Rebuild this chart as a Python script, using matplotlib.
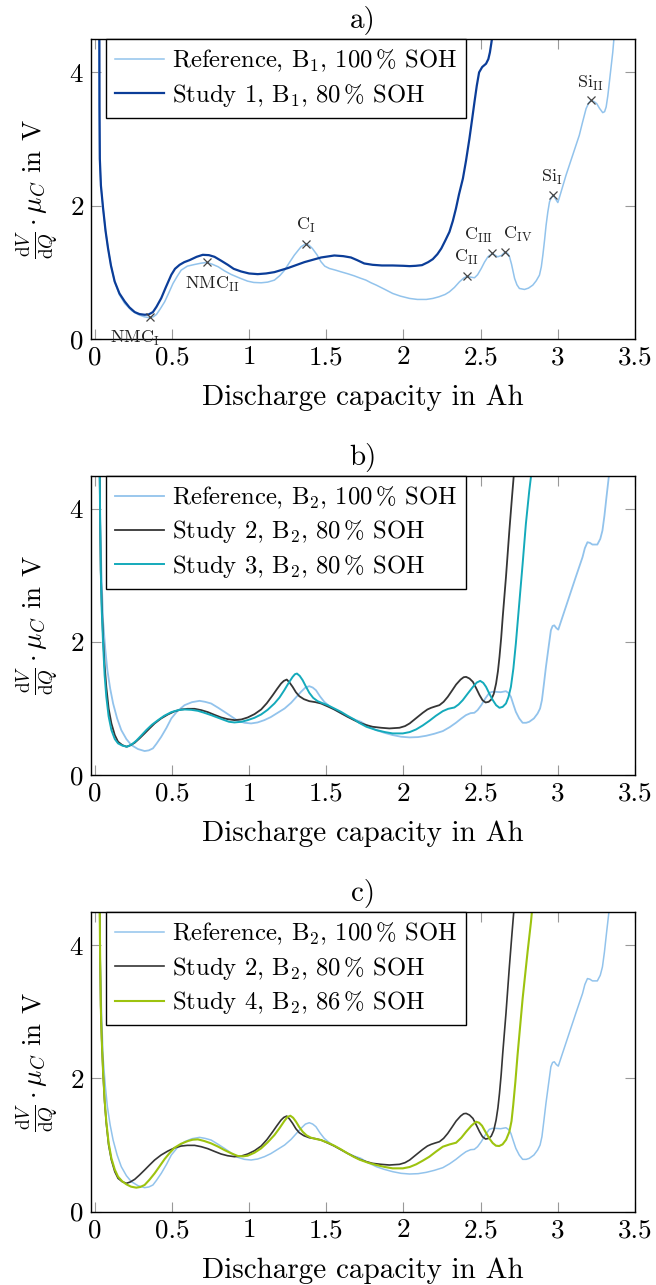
import matplotlib
matplotlib.use("Agg")
import matplotlib.pyplot as plt

# ----------- DATA -------------------------------------
# panel a) reference cell B1, 100 % SOH
ref_b1_q = [0.026, 0.028, 0.032, 0.04, 0.054, 0.07, 0.086, 0.105, 0.129, 0.16, 0.194, 0.24,
            0.28, 0.32, 0.356, 0.38, 0.40, 0.425, 0.453, 0.48, 0.507, 0.535, 0.56, 0.60,
            0.647, 0.69, 0.726, 0.76, 0.80, 0.84, 0.884, 0.94, 0.99, 1.03, 1.078, 1.12,
            1.164, 1.20, 1.23, 1.26, 1.293, 1.336, 1.369, 1.39, 1.41, 1.44, 1.466, 1.49,
            1.52, 1.56, 1.595, 1.64, 1.68, 1.72, 1.757, 1.79, 1.824, 1.88, 1.93, 1.98,
            2.04, 2.09, 2.148, 2.19, 2.23, 2.27, 2.298, 2.33, 2.363, 2.39, 2.41, 2.435,
            2.46, 2.48, 2.504, 2.525, 2.547, 2.575, 2.59, 2.61, 2.635, 2.659, 2.675, 2.687,
            2.70, 2.72, 2.735, 2.751, 2.784, 2.81, 2.838, 2.86, 2.881, 2.893, 2.903, 2.914,
            2.924, 2.935, 2.946, 2.96, 2.971, 2.985, 3.0, 3.01, 3.021, 3.053, 3.096, 3.139,
            3.16, 3.183, 3.2, 3.215, 3.235, 3.252, 3.27, 3.291, 3.303, 3.313, 3.324, 3.334,
            3.345, 3.356, 3.367]
ref_b1_v = [4.6, 3.5, 2.7, 2.3, 1.96, 1.62, 1.36, 1.1, 0.86, 0.66, 0.53, 0.42,
            0.365, 0.33, 0.315, 0.33, 0.365, 0.45, 0.555, 0.69, 0.83, 0.94, 1.03, 1.09,
            1.115, 1.135, 1.145, 1.12, 1.08, 1.02, 0.965, 0.91, 0.865, 0.845, 0.84, 0.85,
            0.88, 0.95, 1.03, 1.14, 1.255, 1.38, 1.43, 1.40, 1.355, 1.26, 1.155, 1.09,
            1.055, 1.03, 1.005, 0.975, 0.945, 0.91, 0.88, 0.84, 0.805, 0.74, 0.68, 0.64,
            0.605, 0.59, 0.59, 0.605, 0.63, 0.665, 0.705, 0.77, 0.855, 0.91, 0.935, 0.925,
            0.915, 0.96, 1.055, 1.15, 1.23, 1.28, 1.26, 1.23, 1.25, 1.305, 1.28, 1.23,
            1.12, 0.905, 0.81, 0.755, 0.74, 0.76, 0.805, 0.87, 0.955, 1.08, 1.255, 1.48,
            1.705, 1.9, 2.055, 2.13, 2.155, 2.1, 2.045, 2.12, 2.205, 2.455, 2.755, 3.055,
            3.25, 3.455, 3.54, 3.58, 3.56, 3.53, 3.46, 3.395, 3.41, 3.48, 3.65, 3.855,
            4.08, 4.305, 4.6]

# panel a) study 1, B1, 80 % SOH
st1_q = [0.03, 0.031, 0.033, 0.04, 0.054, 0.07, 0.086, 0.105, 0.129, 0.16, 0.194, 0.225,
         0.259, 0.29, 0.323, 0.35, 0.377, 0.40, 0.431, 0.46, 0.496, 0.52, 0.55, 0.58,
         0.614, 0.66, 0.70, 0.74, 0.776, 0.82, 0.862, 0.90, 0.948, 1.0, 1.056, 1.11,
         1.164, 1.25, 1.358, 1.466, 1.552, 1.61, 1.66, 1.70, 1.746, 1.80, 1.86, 1.93,
         2.0, 2.04, 2.08, 2.12, 2.16, 2.19, 2.22, 2.245, 2.27, 2.298, 2.32, 2.34,
         2.36, 2.385, 2.405, 2.427, 2.445, 2.46, 2.475, 2.49, 2.51, 2.535, 2.55, 2.56,
         2.57, 2.579]
st1_v = [4.6, 3.5, 2.7, 2.3, 1.96, 1.62, 1.36, 1.1, 0.86, 0.68, 0.56, 0.47,
         0.40, 0.37, 0.36, 0.365, 0.40, 0.48, 0.61, 0.77, 0.96, 1.05, 1.11, 1.15,
         1.18, 1.23, 1.26, 1.255, 1.23, 1.17, 1.11, 1.05, 1.01, 0.98, 0.97, 0.98,
         1.00, 1.06, 1.15, 1.22, 1.25, 1.24, 1.22, 1.18, 1.13, 1.11, 1.10, 1.10,
         1.095, 1.09, 1.095, 1.105, 1.15, 1.195, 1.27, 1.355, 1.47, 1.605, 1.77, 1.955,
         2.17, 2.405, 2.67, 3.0, 3.3, 3.555, 3.8, 4.0, 4.08, 4.13, 4.2, 4.3,
         4.45, 4.6]

# panels b), c) reference cell B2, 100 % SOH
ref_b2_q = [0.032, 0.036, 0.043, 0.054, 0.068, 0.082, 0.10, 0.119, 0.145, 0.172, 0.205, 0.237,
            0.28, 0.323, 0.35, 0.377, 0.40, 0.431, 0.465, 0.496, 0.535, 0.582, 0.63, 0.679,
            0.715, 0.754, 0.80, 0.84, 0.885, 0.927, 0.97, 1.013, 1.055, 1.099, 1.14, 1.185,
            1.23, 1.272, 1.305, 1.336, 1.365, 1.39, 1.412, 1.433, 1.46, 1.487, 1.52, 1.552,
            1.595, 1.638, 1.68, 1.724, 1.77, 1.824, 1.875, 1.93, 1.985, 2.04, 2.095, 2.148,
            2.2, 2.255, 2.30, 2.34, 2.375, 2.405, 2.435, 2.459, 2.48, 2.504, 2.53, 2.556,
            2.575, 2.599, 2.63, 2.664, 2.682, 2.696, 2.712, 2.728, 2.75, 2.772, 2.795, 2.815,
            2.845, 2.869, 2.885, 2.897, 2.91, 2.923, 2.94, 2.955, 2.966, 2.977, 2.99, 3.003,
            3.015, 3.03, 3.073, 3.116, 3.16, 3.175, 3.192, 3.208, 3.224, 3.256, 3.275, 3.289,
            3.302, 3.315, 3.336]
ref_b2_v = [4.6, 3.8, 3.07, 2.32, 1.9, 1.575, 1.3, 1.075, 0.85, 0.675, 0.54, 0.45,
            0.39, 0.36, 0.37, 0.40, 0.47, 0.575, 0.71, 0.85, 0.96, 1.05, 1.095, 1.115,
            1.10, 1.075, 1.01, 0.95, 0.88, 0.815, 0.785, 0.775, 0.79, 0.825, 0.87, 0.935,
            1.0, 1.085, 1.17, 1.25, 1.315, 1.335, 1.315, 1.275, 1.18, 1.10, 1.035, 0.985,
            0.93, 0.875, 0.835, 0.80, 0.735, 0.675, 0.635, 0.60, 0.575, 0.565, 0.57, 0.59,
            0.62, 0.66, 0.72, 0.785, 0.85, 0.90, 0.93, 0.935, 0.975, 1.05, 1.15, 1.235,
            1.25, 1.25, 1.245, 1.26, 1.23, 1.175, 1.06, 0.95, 0.85, 0.785, 0.785, 0.80,
            0.85, 0.925, 1.0, 1.125, 1.37, 1.625, 1.92, 2.175, 2.24, 2.25, 2.21, 2.185,
            2.27, 2.375, 2.675, 2.975, 3.275, 3.41, 3.50, 3.49, 3.465, 3.465, 3.55, 3.675,
            3.9, 4.175, 4.6]

# panels b), c) study 2, B2, 80 % SOH
st2_q = [0.032, 0.035, 0.039, 0.045, 0.054, 0.064, 0.075, 0.09, 0.108, 0.13, 0.151, 0.178,
         0.205, 0.23, 0.259, 0.29, 0.323, 0.355, 0.388, 0.43, 0.474, 0.515, 0.56, 0.60,
         0.647, 0.69, 0.733, 0.775, 0.819, 0.86, 0.905, 0.95, 0.991, 1.035, 1.078, 1.115,
         1.153, 1.18, 1.207, 1.225, 1.244, 1.262, 1.282, 1.303, 1.325, 1.355, 1.39, 1.43,
         1.466, 1.51, 1.552, 1.595, 1.638, 1.68, 1.716, 1.76, 1.80, 1.855, 1.909, 1.974,
         2.01, 2.04, 2.085, 2.125, 2.155, 2.179, 2.205, 2.233, 2.26, 2.287, 2.315, 2.341,
         2.37, 2.39, 2.406, 2.428, 2.45, 2.472, 2.493, 2.512, 2.532, 2.552, 2.569, 2.585,
         2.60, 2.612, 2.622, 2.633, 2.643, 2.664, 2.686, 2.703, 2.718]
st2_v = [4.6, 3.8, 3.075, 2.6, 2.075, 1.65, 1.325, 1.0, 0.775, 0.6, 0.50, 0.45,
         0.425, 0.445, 0.485, 0.55, 0.625, 0.70, 0.775, 0.85, 0.91, 0.955, 0.985, 0.995,
         0.995, 0.975, 0.945, 0.905, 0.865, 0.84, 0.825, 0.835, 0.865, 0.915, 0.985, 1.08,
         1.20, 1.29, 1.375, 1.415, 1.435, 1.39, 1.325, 1.245, 1.185, 1.14, 1.11, 1.095,
         1.075, 1.03, 0.985, 0.93, 0.875, 0.825, 0.785, 0.75, 0.725, 0.71, 0.70, 0.71,
         0.735, 0.775, 0.86, 0.935, 0.985, 1.01, 1.03, 1.05, 1.10, 1.175, 1.27, 1.36,
         1.435, 1.47, 1.475, 1.45, 1.40, 1.30, 1.20, 1.125, 1.09, 1.10, 1.135, 1.22,
         1.375, 1.56, 1.775, 2.06, 2.375, 2.975, 3.675, 4.175, 4.6]

# panel b) study 3, B2, 80 % SOH
st3_q = [0.032, 0.035, 0.039, 0.045, 0.054, 0.064, 0.075, 0.09, 0.108, 0.13, 0.151, 0.18,
         0.211, 0.24, 0.269, 0.30, 0.334, 0.37, 0.41, 0.45, 0.496, 0.54, 0.582, 0.625,
         0.668, 0.71, 0.754, 0.80, 0.84, 0.87, 0.905, 0.95, 0.991, 1.035, 1.078, 1.12,
         1.164, 1.197, 1.228, 1.255, 1.282, 1.297, 1.31, 1.328, 1.347, 1.368, 1.39, 1.415,
         1.444, 1.475, 1.509, 1.552, 1.595, 1.638, 1.681, 1.716, 1.76, 1.824, 1.88, 1.93,
         1.996, 2.04, 2.082, 2.125, 2.168, 2.21, 2.255, 2.29, 2.33, 2.357, 2.384, 2.415,
         2.45, 2.475, 2.497, 2.517, 2.535, 2.557, 2.579, 2.60, 2.622, 2.643, 2.664, 2.68,
         2.696, 2.712, 2.728, 2.75, 2.772, 2.793, 2.815, 2.832]
st3_v = [4.6, 3.8, 3.075, 2.5, 1.975, 1.5, 1.175, 0.88, 0.675, 0.54, 0.475, 0.44,
         0.425, 0.46, 0.515, 0.59, 0.675, 0.755, 0.825, 0.89, 0.945, 0.975, 0.985, 0.98,
         0.965, 0.935, 0.90, 0.86, 0.825, 0.80, 0.79, 0.80, 0.825, 0.86, 0.91, 0.98,
         1.075, 1.165, 1.275, 1.38, 1.475, 1.515, 1.525, 1.49, 1.425, 1.33, 1.235, 1.16,
         1.11, 1.08, 1.05, 1.0, 0.95, 0.89, 0.835, 0.78, 0.725, 0.675, 0.645, 0.625,
         0.625, 0.645, 0.685, 0.745, 0.815, 0.89, 0.96, 0.995, 1.015, 1.06, 1.125, 1.22,
         1.325, 1.39, 1.415, 1.385, 1.325, 1.22, 1.125, 1.05, 1.01, 1.025, 1.075, 1.17,
         1.325, 1.6, 1.975, 2.575, 3.175, 3.775, 4.275, 4.6]

# panel c) study 4, B2, 86 % SOH
st4_q = [0.032, 0.035, 0.039, 0.045, 0.054, 0.064, 0.075, 0.09, 0.108, 0.13, 0.151, 0.178,
         0.205, 0.235, 0.269, 0.295, 0.323, 0.355, 0.388, 0.42, 0.453, 0.485, 0.517, 0.56,
         0.603, 0.635, 0.668, 0.71, 0.754, 0.80, 0.84, 0.885, 0.927, 0.96, 0.991, 1.035,
         1.078, 1.12, 1.164, 1.196, 1.228, 1.248, 1.267, 1.285, 1.304, 1.325, 1.347, 1.372,
         1.401, 1.435, 1.466, 1.51, 1.552, 1.595, 1.638, 1.68, 1.716, 1.77, 1.824, 1.88,
         1.93, 1.996, 2.04, 2.082, 2.125, 2.168, 2.21, 2.255, 2.30, 2.341, 2.375, 2.406,
         2.44, 2.47, 2.49, 2.509, 2.532, 2.556, 2.578, 2.599, 2.62, 2.642, 2.665, 2.686,
         2.70, 2.711, 2.725, 2.739, 2.772, 2.804, 2.826, 2.836]
st4_v = [4.6, 3.8, 3.10, 2.6, 2.10, 1.68, 1.35, 1.03, 0.80, 0.63, 0.525, 0.455,
         0.41, 0.375, 0.36, 0.37, 0.40, 0.48, 0.575, 0.68, 0.79, 0.88, 0.96, 1.02,
         1.06, 1.08, 1.085, 1.06, 1.025, 0.975, 0.925, 0.875, 0.835, 0.83, 0.84, 0.885,
         0.95, 1.04, 1.15, 1.25, 1.36, 1.42, 1.44, 1.41, 1.35, 1.27, 1.20, 1.145,
         1.11, 1.09, 1.075, 1.035, 0.99, 0.935, 0.875, 0.82, 0.78, 0.735, 0.70, 0.67,
         0.65, 0.65, 0.67, 0.71, 0.765, 0.825, 0.90, 0.975, 1.01, 1.035, 1.11, 1.20,
         1.29, 1.35, 1.335, 1.29, 1.195, 1.10, 1.03, 0.99, 0.985, 1.01, 1.08, 1.20,
         1.36, 1.60, 1.95, 2.35, 3.20, 3.90, 4.35, 4.6]

# marked peaks in panel a)
peak_names = ["NMC$_{\\mathrm{I}}$", "NMC$_{\\mathrm{II}}$", "C$_{\\mathrm{I}}$",
              "C$_{\\mathrm{II}}$", "C$_{\\mathrm{III}}$", "C$_{\\mathrm{IV}}$",
              "Si$_{\\mathrm{I}}$", "Si$_{\\mathrm{II}}$"]
peak_q = [0.356, 0.726, 1.369, 2.41, 2.575, 2.659, 2.971, 3.215]
peak_v = [0.33, 1.145, 1.43, 0.935, 1.28, 1.305, 2.155, 3.58]
peak_offsets = [(-15, -22), (6, -22), (0, 18), (0, 19), (-14, 18), (13, 17), (-1, 18), (-1, 17)]

# ----------- STYLE ------------
C_REF = "#92c3ec"
C_ST1 = "#0b3d98"
C_ST2 = "#353535"
C_ST3 = "#14aabb"
C_ST4 = "#9dc30f"

plt.rcParams["font.family"] = ["cmr10", "DejaVu Serif"]
plt.rcParams["mathtext.fontset"] = "cm"
plt.rcParams["axes.unicode_minus"] = False
plt.rcParams["axes.formatter.use_mathtext"] = True
FS_TICK = 19.5
FS_LAB = 21
FS_LEG = 17.8

fig = plt.figure(figsize=(6.56, 12.85), dpi=100)

boxes = [
    [0.1383, 0.7364, 0.8297, 0.2332],
    [0.1383, 0.3969, 0.8297, 0.2329],
    [0.1383, 0.0571, 0.8297, 0.2332],
]

panels = [
    ("a)", [(ref_b1_q, ref_b1_v, C_REF, 1.1, "Reference, B$_1$, $100\\,\\%$ SOH"),
            (st1_q, st1_v, C_ST1, 1.6, "Study 1, B$_1$, $80\\,\\%$ SOH")]),
    ("b)", [(ref_b2_q, ref_b2_v, C_REF, 1.3, "Reference, B$_2$, $100\\,\\%$ SOH"),
            (st2_q, st2_v, C_ST2, 1.3, "Study 2, B$_2$, $80\\,\\%$ SOH"),
            (st3_q, st3_v, C_ST3, 1.4, "Study 3, B$_2$, $80\\,\\%$ SOH")]),
    ("c)", [(ref_b2_q, ref_b2_v, C_REF, 1.1, "Reference, B$_2$, $100\\,\\%$ SOH"),
            (st2_q, st2_v, C_ST2, 1.2, "Study 2, B$_2$, $80\\,\\%$ SOH"),
            (st4_q, st4_v, C_ST4, 1.5, "Study 4, B$_2$, $86\\,\\%$ SOH")]),
]

axes = []
for box, (title, lines) in zip(boxes, panels):
    ax = fig.add_axes(box)
    for q, v, col, lw, lab in lines:
        ax.plot(q, v, color=col, lw=lw, label=lab)

    ax.set_xlim(-0.026, 3.5)
    ax.set_ylim(0, 4.5)
    ax.set_xticks([0, 0.5, 1, 1.5, 2, 2.5, 3, 3.5])
    ax.set_xticklabels(["0", "0.5", "1", "1.5", "2", "2.5", "3", "3.5"])
    ax.set_yticks([0, 2, 4])
    ax.tick_params(direction="in", top=True, right=True, length=7, width=0.8,
                   color="#999999", labelsize=FS_TICK, pad=5)
    for sp in ax.spines.values():
        sp.set_linewidth(1.0)

    ax.set_title(title, fontsize=FS_LAB, pad=8)
    ax.set_xlabel("Discharge capacity in Ah", fontsize=FS_LAB, labelpad=11)
    ax.set_ylabel(r"$\frac{\mathrm{d}V}{\mathrm{d}Q}\cdot\mu_C$ in V", fontsize=FS_TICK, labelpad=6)

    leg = ax.legend(loc="upper left", bbox_to_anchor=(0.028, 1.0), borderaxespad=0,
                    fontsize=FS_LEG, handlelength=2.0, handletextpad=0.3, labelspacing=0.3,
                    borderpad=0.36, frameon=True, fancybox=False, framealpha=1)
    leg.get_frame().set_edgecolor("black")
    leg.get_frame().set_linewidth(1.0)
    axes.append(ax)

# peak markers in panel a)
ax = axes[0]
ax.plot(peak_q, peak_v, ls="none", marker="x", ms=6, mew=0.9, color="#444444", zorder=5)
for name, q, v, off in zip(peak_names, peak_q, peak_v, peak_offsets):
    ax.annotate(name, (q, v), xytext=off, textcoords="offset pixels",
                ha="center", va="center", fontsize=13, color="#222222")

fig.savefig("out.png", dpi=100)
